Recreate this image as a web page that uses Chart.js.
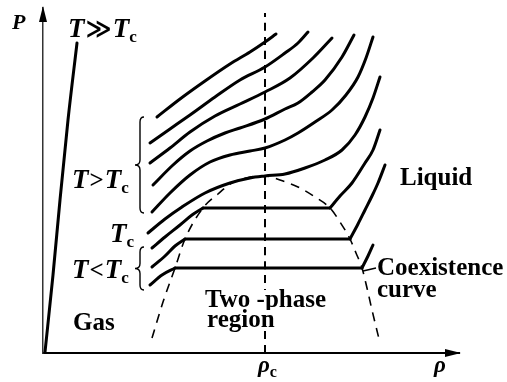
<!DOCTYPE html>
<html>
<head>
<meta charset="utf-8">
<script src="https://cdn.jsdelivr.net/npm/chart.js@4/dist/chart.umd.min.js"></script>
<style>
  html, body { margin: 0; padding: 0; background: #fff; }
  #wrap { width: 507px; height: 382px; position: relative; }
</style>
</head>
<body>
<div id="wrap"><canvas id="myChart"></canvas></div>
<script>
//*** Isotherms, density rho vs pressure P (arbitrary units)
const hotRho = [2, 10, 17, 25, 34];
const hotP = [1, 78, 153, 233, 310];

const sup1Rho = [114, 137, 162, 187, 207, 222, 233];
const sup1P = [236, 254, 272, 289, 301, 311, 319];
const sup2Rho = [107, 127, 147, 172, 197, 222, 242, 255, 265];
const sup2P = [210, 224, 238, 256, 273, 286, 300, 310, 321];
const sup3Rho = [107, 127, 147, 172, 197, 222, 247, 270, 289];
const sup3P = [190, 205, 221, 237, 249, 261, 275, 295, 315];
const sup4Rho = [110, 130, 147, 164, 182, 197, 222, 242, 255, 269, 282, 299, 311];
const sup4P = [168, 188, 202, 212, 220, 225, 234, 244, 250, 261, 273, 296, 318];
const sup5Rho = [109, 127, 147, 167, 187, 207, 222, 242, 255, 272, 289, 303, 315, 323, 330];
const sup5P = [141, 160, 178, 191, 198, 202, 205, 213, 220, 231, 243, 258, 276, 295, 316];

const critRho = [105, 122, 139, 162, 187, 207, 222, 242, 262, 282, 299, 312, 322, 330, 337];
const critP = [120, 134, 146, 160, 170, 175, 177, 179, 185, 193, 203, 218, 236, 255, 276];

// T < Tc : gas branch, flat (coexistence) part, liquid branch
const sub1GasRho = [109, 122, 137, 149, 160];
const sub1GasP = [105, 116, 128, 138, 145];
const sub1LiqRho = [287, 297, 309, 322, 330, 337];
const sub1LiqP = [145, 157, 170, 190, 203, 223];
const sub2GasRho = [109, 122, 132, 142];
const sub2GasP = [86, 97, 107, 114];
const sub2LiqRho = [307, 315, 322, 329, 335, 342];
const sub2LiqP = [114, 129, 143, 157, 170, 188];
const sub3GasRho = [107, 119, 132];
const sub3GasP = [68, 78, 85];
const sub3LiqRho = [319, 325, 330];
const sub3LiqP = [85, 97, 108];

// coexistence curve
const domeRho = [109, 120, 132, 142, 160, 175, 189, 207, 222, 237, 255, 272, 287, 297, 307, 313, 319, 324, 329, 337];
const domeP = [15, 51, 85, 114, 145, 159, 170, 176, 177, 173, 166, 156, 145, 131, 114, 100, 85, 65, 43, 10];

const rhoC = 222;
const rhoCLineP = [0, 340];

const pts = (xs, ys) => xs.map((x, i) => ({ x: x, y: ys[i] }));

const iso = (xs, ys) => ({
  data: pts(xs, ys),
  showLine: true,
  borderColor: "#000",
  borderWidth: 3,
  pointRadius: 0,
  cubicInterpolationMode: "monotone",
  borderCapStyle: "round",
  borderJoinStyle: "round",
});

const flat = (gasRho, gasP, liqRho) =>
  iso([gasRho[gasRho.length - 1], liqRho[0]], [gasP[gasP.length - 1], gasP[gasP.length - 1]]);

const datasets = [
  iso(hotRho, hotP),
  iso(sup1Rho, sup1P),
  iso(sup2Rho, sup2P),
  iso(sup3Rho, sup3P),
  iso(sup4Rho, sup4P),
  iso(sup5Rho, sup5P),
  iso(critRho, critP),
  iso(sub1GasRho, sub1GasP),
  flat(sub1GasRho, sub1GasP, sub1LiqRho),
  iso(sub1LiqRho, sub1LiqP),
  iso(sub2GasRho, sub2GasP),
  flat(sub2GasRho, sub2GasP, sub2LiqRho),
  iso(sub2LiqRho, sub2LiqP),
  iso(sub3GasRho, sub3GasP),
  flat(sub3GasRho, sub3GasP, sub3LiqRho),
  iso(sub3LiqRho, sub3LiqP),
  Object.assign(iso(domeRho, domeP), { borderWidth: 1.6, borderDash: [9, 7], borderCapStyle: "butt" }),
  Object.assign(iso([rhoC, rhoC], rhoCLineP), { borderWidth: 2, borderDash: [8, 6], borderCapStyle: "butt" }),
];

//*** Text pieces
const SERIF = "'Liberation Serif', 'Times New Roman', serif";
const WORD = "bold 25px " + SERIF;
const tPart = (t) => ({ t: t, font: "italic bold 27px " + SERIF });
const cPart = { t: "c", font: "bold 17px " + SERIF, dy: 5 };
const opPart = (t) => ({ t: t, font: "bold 25px " + SERIF, pad: 1 });

const labels = [
  { rho: -31, p: 324, parts: [{ t: "P", font: "italic bold 22px " + SERIF }] },
  { rho: 25, p: 316, parts: [tPart("T"), { t: "\u226B", font: "bold 25px 'DejaVu Sans', sans-serif", pad: 1 }, tPart("T"), cPart] },
  { rho: 29, p: 165, parts: [tPart("T"), opPart(">"), tPart("T"), cPart] },
  { rho: 67, p: 111, parts: [tPart("T"), cPart] },
  { rho: 29, p: 75, parts: [tPart("T"), opPart("<"), tPart("T"), cPart] },
  { rho: 30, p: 23, parts: [{ t: "Gas", font: WORD }] },
  { rho: 162, p: 46, bg: true, parts: [{ t: "Two -phase", font: WORD }] },
  { rho: 164, p: 26, bg: true, parts: [{ t: "region", font: WORD }] },
  { rho: 357, p: 168, parts: [{ t: "Liquid", font: WORD }] },
  { rho: 334, p: 78, parts: [{ t: "Coexistence", font: WORD }] },
  { rho: 334, p: 56, parts: [{ t: "curve", font: WORD }] },
  { rho: 215, p: -19, parts: [{ t: "\u03C1", font: "italic bold 23px " + SERIF }, { t: "c", font: "bold 16px " + SERIF, dy: 5 }] },
  { rho: 391, p: -19, parts: [{ t: "\u03C1", font: "italic bold 23px " + SERIF }] },
];

// braces beside the T > Tc and T < Tc groups
const braces = [
  { rho: 97, pTop: 236, pBot: 140 },
  { rho: 97, pTop: 106, pBot: 63 },
];

const drawBrace = (ctx, x, y0, y1) => {
  const mid = (y0 + y1) / 2;
  ctx.beginPath();
  ctx.moveTo(x + 4, y0);
  ctx.quadraticCurveTo(x, y0, x, y0 + 5);
  ctx.lineTo(x, mid - 5);
  ctx.quadraticCurveTo(x, mid, x - 5, mid);
  ctx.quadraticCurveTo(x, mid, x, mid + 5);
  ctx.lineTo(x, y1 - 5);
  ctx.quadraticCurveTo(x, y1, x + 4, y1);
  ctx.stroke();
};

const decor = {
  id: "decor",
  afterDraw(chart) {
    const ctx = chart.ctx;
    const xs = chart.scales.x;
    const ys = chart.scales.y;
    const a = chart.chartArea;
    ctx.save();
    ctx.fillStyle = "#000";
    ctx.strokeStyle = "#000";

    // arrow heads on both axes
    ctx.beginPath();
    ctx.moveTo(a.left, a.top - 2);
    ctx.lineTo(a.left - 4, a.top + 14);
    ctx.lineTo(a.left + 4, a.top + 14);
    ctx.closePath();
    ctx.fill();
    ctx.beginPath();
    ctx.moveTo(a.right + 2, a.bottom);
    ctx.lineTo(a.right - 14, a.bottom - 4);
    ctx.lineTo(a.right - 14, a.bottom + 4);
    ctx.closePath();
    ctx.fill();

    ctx.lineWidth = 1.4;
    braces.forEach((b) => {
      drawBrace(ctx, xs.getPixelForValue(b.rho), ys.getPixelForValue(b.pTop), ys.getPixelForValue(b.pBot));
    });

    // short leader to "Coexistence"
    ctx.beginPath();
    ctx.moveTo(xs.getPixelForValue(320), ys.getPixelForValue(82));
    ctx.lineTo(xs.getPixelForValue(333), ys.getPixelForValue(85));
    ctx.stroke();

    ctx.textBaseline = "alphabetic";
    ctx.textAlign = "left";
    labels.forEach((l) => {
      let x = xs.getPixelForValue(l.rho);
      const y = ys.getPixelForValue(l.p);
      if (l.bg) {
        // knock the dashed rho_c line out behind the text
        ctx.font = l.parts[0].font;
        const w = ctx.measureText(l.parts[0].t).width;
        ctx.fillStyle = "#fff";
        ctx.fillRect(x - 2, y - 17, w + 4, 20);
        ctx.fillStyle = "#000";
      }
      l.parts.forEach((p) => {
        ctx.font = p.font;
        x += p.pad || 0;
        ctx.fillText(p.t, x, y + (p.dy || 0));
        x += ctx.measureText(p.t).width + (p.pad || 0);
      });
    });
    ctx.restore();
  },
};

const config = {
  type: "scatter",
  data: { datasets: datasets },
  options: {
    responsive: true,
    maintainAspectRatio: false,
    animation: false,
    events: [],
    layout: { padding: { left: 43, top: 8, right: 48, bottom: 29 } },
    plugins: { legend: { display: false }, tooltip: { enabled: false } },
    scales: {
      x: {
        type: "linear",
        min: 0,
        max: 416,
        grid: { display: false },
        ticks: { display: false },
        border: { color: "#000", width: 2 },
        afterFit: (s) => { s.height = 0; },
      },
      y: {
        type: "linear",
        min: 0,
        max: 345,
        grid: { display: false },
        ticks: { display: false },
        border: { color: "#333", width: 1.5 },
        afterFit: (s) => { s.width = 0; },
      },
    },
  },
  plugins: [decor],
};

var myChart = new Chart(document.getElementById("myChart"), config);
</script>
</body>
</html>
